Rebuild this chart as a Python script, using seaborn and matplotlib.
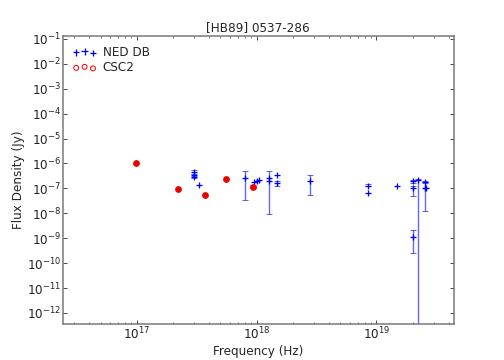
import numpy as np
import pandas as pd
import matplotlib
matplotlib.use("Agg")
import matplotlib.pyplot as plt
import seaborn as sns

# NED DB photometry (Hz, Jy) with lower/upper error bounds (NaN = no error bar)
ned_freq = [3.0e17, 3.0e17, 3.0e17, 3.3e17, 8.0e17, 9.5e17, 1.0e18, 1.05e18,
            1.26e18, 1.26e18, 1.47e18, 1.47e18, 2.8e18, 8.5e18, 8.5e18,
            1.47e19, 2.0e19, 2.0e19, 2.0e19, 2.2e19, 2.55e19, 2.55e19, 2.6e19]
ned_flux = [4.5e-7, 3.5e-7, 2.8e-7, 1.4e-7, 2.5e-7, 1.8e-7, 2.0e-7, 2.1e-7,
            2.5e-7, 1.9e-7, 3.3e-7, 1.7e-7, 1.9e-7, 1.3e-7, 6.3e-8,
            1.3e-7, 1.9e-7, 1.0e-7, 1.1e-9, 2.1e-7, 1.8e-7, 1.0e-7, 1.05e-7]
ned_lo = [3.8e-7, np.nan, 2.5e-7, np.nan, 3.3e-8, np.nan, np.nan, np.nan,
          9.0e-9, np.nan, np.nan, 1.2e-7, 5.2e-8, 1.2e-7, np.nan,
          np.nan, 1.7e-7, 4.8e-8, 2.5e-10, 1e-14, 1.6e-7, 1.2e-8, np.nan]
ned_hi = [5.5e-7, np.nan, 3.2e-7, np.nan, 4.8e-7, np.nan, np.nan, np.nan,
          4.8e-7, np.nan, np.nan, 2.0e-7, 3.3e-7, 1.5e-7, np.nan,
          np.nan, 2.1e-7, 1.2e-7, 2.1e-9, 2.3e-7, 2.0e-7, 1.8e-7, np.nan]

# CSC2 photometry
csc_freq = [9.8e16, 2.2e17, 3.7e17, 5.6e17, 9.3e17]
csc_flux = [1.05e-6, 9.0e-8, 5.5e-8, 2.4e-7, 1.15e-7]
csc_lo = [np.nan, np.nan, np.nan, np.nan, 1.0e-7]
csc_hi = [np.nan, np.nan, np.nan, np.nan, 1.35e-7]

ned = pd.DataFrame({"freq": ned_freq, "flux": ned_flux, "lo": ned_lo, "hi": ned_hi})
csc = pd.DataFrame({"freq": csc_freq, "flux": csc_flux, "lo": csc_lo, "hi": csc_hi})

sns.set_style("ticks")
plt.rcParams['font.family'] = ['DejaVu Sans']
plt.rcParams['mathtext.default'] = 'regular'

fig = plt.figure(figsize=(7, 5), dpi=72)
ax = fig.add_axes([0.125, 0.1, 0.775, 0.8])

# error bars
e = ned.dropna()
ax.errorbar(e["freq"], e["flux"],
            yerr=[e["flux"] - e["lo"], e["hi"] - e["flux"]],
            fmt='none', ecolor='blue', alpha=0.6, capsize=3, elinewidth=1.4)
c = csc.dropna()
ax.errorbar(c["freq"], c["flux"],
            yerr=[c["flux"] - c["lo"], c["hi"] - c["flux"]],
            fmt='none', ecolor='red', capsize=3, elinewidth=1.4)

sns.scatterplot(data=ned, x="freq", y="flux", marker='+', color='blue',
                s=40, linewidth=1.3, ax=ax, label='NED DB', zorder=3)
sns.scatterplot(data=csc, x="freq", y="flux", marker='o', facecolor='#cc0000',
                edgecolor='red', s=30, linewidth=1.3, ax=ax, zorder=4)
# hollow proxy for legend
ax.scatter([], [], marker='o', facecolors='none', edgecolors='red', s=24,
           linewidths=1.0, label='CSC2')

ax.set_xscale('log')
ax.set_yscale('log')
ax.set_xlim(2.43e16, 4.4e19)
ax.set_ylim(3.6e-13, 0.13)
ax.set_yticks([10.0 ** k for k in range(-12, 0)])
ax.yaxis.set_minor_locator(matplotlib.ticker.NullLocator())

ax.tick_params(which='both', direction='in', top=True, right=True,
               labelsize=12, colors='#222222', pad=2)
ax.tick_params(which='major', length=4)
ax.tick_params(which='minor', length=2)
for s in ax.spines.values():
    s.set_color('#777777')
    s.set_linewidth(1.5)

ax.set_xlabel('Frequency (Hz)', fontsize=12, labelpad=2)
ax.set_ylabel('Flux Density (Jy)', fontsize=12, labelpad=2)
ax.set_title('[HB89] 0537-286', fontsize=12, pad=5)

ax.legend(loc='upper left', frameon=False, scatterpoints=3, fontsize=12,
          handletextpad=0.5, handlelength=2.0, borderaxespad=0.4,
          labelspacing=0.2)

fig.savefig('out.png', dpi=72)
